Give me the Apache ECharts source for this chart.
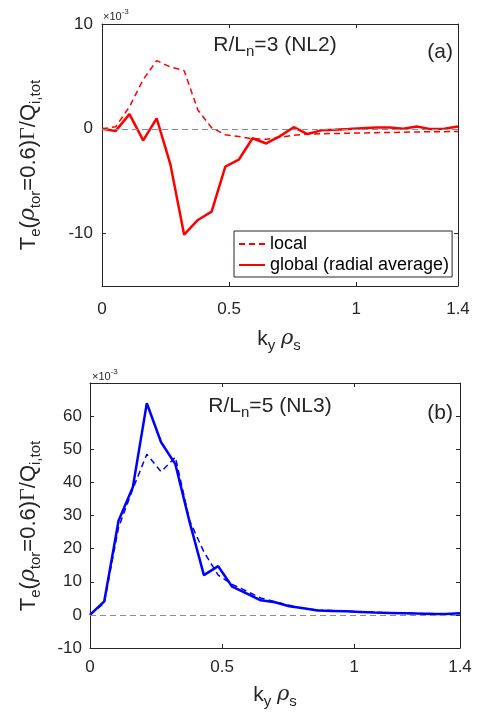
<!DOCTYPE html>
<html>
<head>
<meta charset="utf-8">
<script src="https://cdn.jsdelivr.net/npm/echarts@6/dist/echarts.min.js"></script>
<style>
html,body{margin:0;padding:0;background:#fff;}
#chart{width:482px;height:717px;}
</style>
</head>
<body>
<div id="chart"></div>
<script>
// k_y rho_s sample points
const ky = [0, 0.054, 0.108, 0.162, 0.215, 0.269, 0.323, 0.377, 0.431, 0.485, 0.538, 0.592, 0.646, 0.700,
            0.754, 0.808, 0.862, 0.915, 0.969, 1.023, 1.077, 1.131, 1.185, 1.238, 1.292, 1.346, 1.4];
// panel (a) R/Ln=3 (NL2), values x 1e-3
const localA = [0, 0.2, 2.1, 4.7, 6.5, 5.9, 5.55, 1.8, 0.1, -0.57, -0.73, -0.95, -1.0, -0.8, -0.63, -0.5,
                -0.48, -0.45, -0.42, -0.4, -0.37, -0.35, -0.33, -0.3, -0.28, -0.27, -0.25];
const globalA = [0, -0.2, 1.4, -1.1, 1.0, -3.4, -10.1, -8.7, -7.9, -3.6, -2.95, -0.9, -1.4, -0.7, 0.15, -0.5,
                 -0.15, -0.1, -0.03, 0.06, 0.13, 0.13, 0, 0.22, -0.03, 0, 0.22];
// panel (b) R/Ln=5 (NL3), values x 1e-3
const localB = [0, 3.6, 26.4, 38, 48.5, 43.2, 47.6, 28.4, 19.0, 12.0, 9.2, 7.2, 5.1, 4.0, 2.9, 1.9,
                1.5, 1.3, 1.1, 0.9, 0.8, 0.6, 0.5, 0.4, 0.4, 0.3, 0.4];
const globalB = [0, 4.1, 28.4, 38.5, 63.9, 52.1, 45.5, 28, 12.0, 14.7, 8.5, 6.5, 4.4, 3.8, 2.6, 2.0,
                 1.3, 1.2, 1.1, 0.9, 0.7, 0.6, 0.5, 0.4, 0.3, 0.3, 0.5];
// tick labels
const xTicks = [0, 0.5, 1, 1.4];
const yTicksA = [-10, 0, 10];
const yTicksB = [-10, 0, 10, 20, 30, 40, 50, 60];
const legendNames = ['local', 'global (radial average)'];

const FONT = "'Liberation Sans', Arial, Helvetica, sans-serif";
const AX = '#262626';
const pair = (xs, ys) => xs.map((x, i) => [x, ys[i]]);

function xAx(gi, pos, labels) {
  return {
    type: 'value', gridIndex: gi, position: pos, min: 0, max: 1.4,
    axisLine: {show: true, onZero: false, lineStyle: {color: AX, width: 1}},
    axisTick: {show: true, inside: true, length: 4, customValues: [0.5, 1], lineStyle: {color: AX}},
    axisLabel: {show: labels, customValues: xTicks, margin: gi === 0 ? 15 : 11, fontSize: 17, color: AX, fontFamily: FONT,
                formatter: v => String(v)},
    splitLine: {show: false}
  };
}
function yAx(gi, pos, labels, min, max, ticks) {
  return {
    type: 'value', gridIndex: gi, position: pos, min: min, max: max,
    axisLine: {show: true, onZero: false, lineStyle: {color: AX, width: 1}},
    axisTick: {show: true, inside: true, length: 4, customValues: ticks, lineStyle: {color: AX}},
    axisLabel: {show: labels, customValues: ticks, margin: gi === 0 ? 9 : 8, fontSize: 17, color: AX, fontFamily: FONT},
    splitLine: {show: false}
  };
}

const ylabRich = {
  m: {fontSize: 22, lineHeight: 22, verticalAlign: 'top', fontFamily: FONT, color: AX},
  g: {fontSize: 22, lineHeight: 22, verticalAlign: 'top', fontFamily: "'DejaVu Serif', serif", fontStyle: 'italic', color: AX},
  G: {fontSize: 22, lineHeight: 22, verticalAlign: 'top', fontFamily: "'Liberation Serif', serif", color: AX},
  s: {fontSize: 15, lineHeight: 37, verticalAlign: 'middle', fontFamily: FONT, color: AX}
};
const xlabRich = {
  m: {fontSize: 21, lineHeight: 21, verticalAlign: 'top', fontFamily: FONT, color: AX},
  g: {fontSize: 21, lineHeight: 21, verticalAlign: 'top', fontFamily: "'DejaVu Serif', serif", fontStyle: 'italic', color: AX},
  s: {fontSize: 15, lineHeight: 35, verticalAlign: 'middle', fontFamily: FONT, color: AX}
};
const ylabText = '{m|T}{s|e}{m|(}{g|ρ}{s|tor}{m|=0.6)}{G|Γ}{m|/Q}{s|i,tot}';
const xlabText = '{m|k}{s|y}{m| }{g|ρ}{s|s}';
const expRich = {
  m: {fontSize: 11, lineHeight: 15, verticalAlign: 'bottom', fontFamily: FONT, color: AX},
  p: {fontSize: 8, lineHeight: 8, verticalAlign: 'top', fontFamily: FONT, color: AX}
};
const titleRich = {
  m: {fontSize: 21, lineHeight: 21, verticalAlign: 'top', fontFamily: FONT, color: '#000'},
  s: {fontSize: 15, lineHeight: 35, verticalAlign: 'middle', fontFamily: FONT, color: '#000'}
};

function txt(x, y, text, rich, align, va, rot) {
  return {type: 'text', x: x, y: y, rotation: rot || 0, z: 100,
          style: {text: text, rich: rich, align: align, verticalAlign: va, fill: AX, font: '16px ' + FONT}};
}

const chart = echarts.init(document.getElementById('chart'), null, {renderer: 'canvas'});
chart.setOption({
  animation: false,
  backgroundColor: '#fff',
  grid: [
    {left: 102, top: 24, width: 356, height: 262},
    {left: 90, top: 383, width: 370, height: 265}
  ],
  xAxis: [xAx(0, 'bottom', true), xAx(0, 'top', false), xAx(1, 'bottom', true), xAx(1, 'top', false)],
  yAxis: [yAx(0, 'left', true, -15, 10, yTicksA), yAx(0, 'right', false, -15, 10, yTicksA),
          yAx(1, 'left', true, -10, 70, yTicksB), yAx(1, 'right', false, -10, 70, yTicksB)],
  legend: {
    data: legendNames, orient: 'vertical', left: 234, top: 231,
    itemWidth: 26, itemHeight: 14, itemGap: 3, padding: [4, 3, 3, 4],
    itemStyle: {opacity: 0},
    borderColor: AX, borderWidth: 1, borderRadius: 0, backgroundColor: '#fff',
    textStyle: {fontSize: 18, color: '#000', fontFamily: FONT}
  },
  series: [
    {name: 'zeroA', type: 'line', xAxisIndex: 0, yAxisIndex: 0, data: [], z: 1,
     markLine: {silent: true, symbol: ['none', 'none'], label: {show: false},
                lineStyle: {color: '#8c8c8c', type: [6, 4], width: 1}, data: [{yAxis: 0}]}},
    {name: 'zeroB', type: 'line', xAxisIndex: 2, yAxisIndex: 2, data: [], z: 1,
     markLine: {silent: true, symbol: ['none', 'none'], label: {show: false},
                lineStyle: {color: '#8c8c8c', type: [6, 4], width: 1}, data: [{yAxis: 0}]}},
    {name: legendNames[0], type: 'line', xAxisIndex: 0, yAxisIndex: 0, data: pair(ky, localA), z: 3,
     symbol: 'none', lineStyle: {color: '#ff0000', width: 1.5, type: [6, 4]}, itemStyle: {color: '#ff0000'}},
    {name: legendNames[1], type: 'line', xAxisIndex: 0, yAxisIndex: 0, data: pair(ky, globalA), z: 4,
     symbol: 'none', lineStyle: {color: '#ff0000', width: 2.5}, itemStyle: {color: '#ff0000'}},
    {name: 'local (b)', type: 'line', xAxisIndex: 2, yAxisIndex: 2, data: pair(ky, localB), z: 3,
     symbol: 'none', lineStyle: {color: '#0000ff', width: 1.5, type: [6, 4]}, itemStyle: {color: '#0000ff'}},
    {name: 'global (b)', type: 'line', xAxisIndex: 2, yAxisIndex: 2, data: pair(ky, globalB), z: 4,
     symbol: 'none', lineStyle: {color: '#0000ff', width: 2.5}, itemStyle: {color: '#0000ff'}}
  ],
  graphic: [
    txt(275, 52, '{m|R/L}{s|n}{m|=3 (NL2)}', titleRich, 'center', 'middle'),
    txt(453, 52, '{m|(a)}', titleRich, 'right', 'middle'),
    txt(270, 413, '{m|R/L}{s|n}{m|=5 (NL3)}', titleRich, 'center', 'middle'),
    txt(453, 413, '{m|(b)}', titleRich, 'right', 'middle'),
    txt(103, 15, '{m|×10}{p|-3}', expRich, 'left', 'middle'),
    txt(92, 375, '{m|×10}{p|-3}', expRich, 'left', 'middle'),
    txt(36, 165, ylabText, ylabRich, 'center', 'middle', Math.PI / 2),
    txt(36, 526, ylabText, ylabRich, 'center', 'middle', Math.PI / 2),
    txt(279, 346, xlabText, xlabRich, 'center', 'middle'),
    txt(275, 702, xlabText, xlabRich, 'center', 'middle')
  ]
});
</script>
</body>
</html>
